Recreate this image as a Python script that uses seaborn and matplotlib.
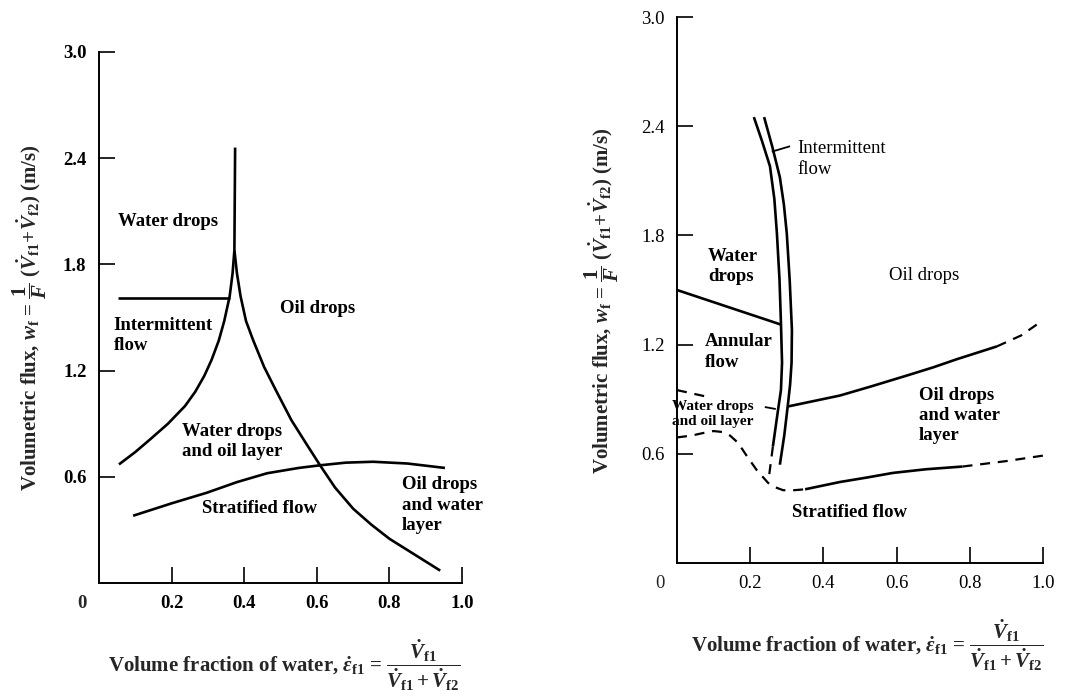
import matplotlib
matplotlib.use("Agg")
import matplotlib.pyplot as plt
import pandas as pd
import seaborn as sns

sns.set_theme(style="ticks")
plt.rcParams["font.family"] = ["Liberation Serif", "DejaVu Serif"]
plt.rcParams["mathtext.fontset"] = "custom"
plt.rcParams["mathtext.rm"] = "Liberation Serif:bold"
plt.rcParams["mathtext.it"] = "Liberation Serif:italic:bold"
plt.rcParams["mathtext.bf"] = "Liberation Serif:bold"

# ---------------- Horizontal pipe: flow-regime boundaries ----------------
h_left_x = [0.055, 0.10, 0.14, 0.19, 0.237, 0.265, 0.29, 0.31, 0.33, 0.345, 0.36, 0.368, 0.373]
h_left_y = [0.67, 0.74, 0.81, 0.90, 1.00, 1.08, 1.17, 1.26, 1.37, 1.48, 1.62, 1.75, 1.88]

h_spike_x = [0.373, 0.375]
h_spike_y = [1.88, 2.46]

h_right_x = [0.373, 0.38, 0.39, 0.405, 0.425, 0.455, 0.487, 0.53, 0.57, 0.609,
             0.65, 0.70, 0.75, 0.80, 0.87, 0.94]
h_right_y = [1.88, 1.75, 1.62, 1.48, 1.37, 1.22, 1.09, 0.92, 0.79, 0.665,
             0.54, 0.42, 0.33, 0.25, 0.16, 0.07]

h_interm_x = [0.052, 0.36]
h_interm_y = [1.61, 1.61]

h_strat_x = [0.094, 0.20, 0.297, 0.38, 0.463, 0.55, 0.609, 0.68, 0.755, 0.85, 0.953]
h_strat_y = [0.38, 0.45, 0.51, 0.57, 0.62, 0.65, 0.665, 0.68, 0.685, 0.675, 0.65]

# ---------------- Inclined pipe: flow-regime boundaries ----------------
i_band_l_x = [0.210, 0.232, 0.254, 0.266, 0.273, 0.280, 0.284, 0.287, 0.284, 0.276, 0.262]
i_band_l_y = [2.45, 2.32, 2.18, 2.00, 1.81, 1.56, 1.32, 1.10, 0.95, 0.84, 0.64]
i_band_l_dash_x = [0.262, 0.251]
i_band_l_dash_y = [0.64, 0.47]

i_band_r_x = [0.238, 0.260, 0.281, 0.292, 0.300, 0.308, 0.314, 0.313, 0.309, 0.303, 0.293, 0.281]
i_band_r_y = [2.45, 2.29, 2.12, 1.97, 1.81, 1.55, 1.28, 1.10, 0.98, 0.87, 0.70, 0.54]

i_annular_x = [0.0, 0.284]
i_annular_y = [1.50, 1.31]

i_oil_x = [0.303, 0.445, 0.53, 0.628, 0.70, 0.765, 0.874]
i_oil_y = [0.86, 0.92, 0.97, 1.03, 1.075, 1.12, 1.19]
i_oil_dash_x = [0.874, 0.94, 0.99]
i_oil_dash_y = [1.19, 1.25, 1.32]

i_strat_dash_x = [0.0, 0.04, 0.071, 0.10, 0.123, 0.145, 0.167, 0.19, 0.218, 0.249, 0.27, 0.29, 0.32, 0.35]
i_strat_dash_y = [0.69, 0.70, 0.714, 0.725, 0.72, 0.70, 0.66, 0.59, 0.51, 0.44, 0.415, 0.40, 0.40, 0.405]
i_strat_x = [0.35, 0.445, 0.52, 0.59, 0.68, 0.78]
i_strat_y = [0.405, 0.445, 0.47, 0.495, 0.515, 0.53]
i_strat_end_x = [0.78, 0.90, 1.0]
i_strat_end_y = [0.53, 0.56, 0.59]

i_upper_dash_x = [0.0, 0.09]
i_upper_dash_y = [0.95, 0.91]

i_lead_interm_x = [0.259, 0.309]
i_lead_interm_y = [2.26, 2.29]
i_lead_wd_x = [0.240, 0.270]
i_lead_wd_y = [0.857, 0.846]

y_ticks = [0.6, 1.2, 1.8, 2.4, 3.0]
y_tick_labels = ["0.6", "1.2", "1.8", "2.4", "3.0"]
x_ticks = [0.2, 0.4, 0.6, 0.8, 1.0]
x_tick_labels = ["0.2", "0.4", "0.6", "0.8", "1.0"]

Y_LABEL = (r"Volumetric flux, $w_\mathrm{f}$ = $\dfrac{1}{F}$ "
           r"$(\dot{V}_\mathrm{f1}\!+\!\dot{V}_\mathrm{f2})$ (m/s)")
X_LABEL = (r"Volume fraction of water, $\dot{\varepsilon}_\mathrm{f1}$ = "
           r"$\dfrac{\dot{V}_\mathrm{f1}}{\dot{V}_\mathrm{f1}+\dot{V}_\mathrm{f2}}$")

W, H = 1071, 698
fig = plt.figure(figsize=(W / 100, H / 100), dpi=100)
fig.patch.set_facecolor("white")
axL = fig.add_axes([99 / W, 1 - 583 / H, 363 / W, 531 / H])
axR = fig.add_axes([677 / W, 1 - 563 / H, 366 / W, 546 / H])


def curve(ax, xs, ys, dashed=False, lw=1.9):
    df = pd.DataFrame({"x": xs, "y": ys})
    sns.lineplot(data=df, x="x", y="y", ax=ax, sort=False, estimator=None,
                 color="black", lw=lw,
                 linestyle=(0, (4.5, 3.5)) if dashed else "-",
                 solid_capstyle="butt", dash_capstyle="butt",
                 solid_joinstyle="round")


def style_axes(ax, weight):
    ax.set_facecolor("white")
    ax.set_xlim(0, 1.0)
    ax.set_ylim(0, 3.0)
    for s in ("top", "right"):
        ax.spines[s].set_visible(False)
    for s in ("left", "bottom"):
        ax.spines[s].set_linewidth(1.4)
        ax.spines[s].set_color("black")
    ax.set_xticks(x_ticks)
    ax.set_xticklabels(x_tick_labels, fontsize=13.5, fontweight=weight)
    ax.set_yticks(y_ticks)
    ax.set_yticklabels(y_tick_labels, fontsize=13.5, fontweight=weight)
    ax.tick_params(direction="in", length=11.5, width=1.2, color="black",
                   labelcolor="black")
    ax.tick_params(axis="x", pad=9)
    ax.tick_params(axis="y", pad=9)
    ax.set_xlabel("")
    ax.set_ylabel("")
    ax.annotate("0", xy=(0, 0), xytext=(-12, -14.5), textcoords="offset points",
                ha="center", va="center", fontsize=13.5, fontweight=weight,
                annotation_clip=False)


# ---- horizontal pipe ----
curve(axL, h_left_x, h_left_y)
curve(axL, h_spike_x, h_spike_y)
curve(axL, h_right_x, h_right_y)
curve(axL, h_interm_x, h_interm_y)
curve(axL, h_strat_x, h_strat_y)
style_axes(axL, "bold")

lab = dict(fontsize=13.5, fontweight="bold", va="center", ha="left",
           linespacing=1.25, color="black")
axL.text(0.053, 2.04, "Water drops", **lab)
axL.text(0.50, 1.55, "Oil drops", **lab)
axL.text(0.04, 1.40, "Intermittent\nflow", **lab)
axL.text(0.23, 0.80, "Water drops\nand oil layer", **lab)
axL.text(0.285, 0.42, "Stratified flow", **lab)
axL.text(0.835, 0.44, "Oil drops\nand water\nlayer", **lab)

axL.text(-0.19, 0.50, Y_LABEL, transform=axL.transAxes, rotation=90,
         ha="center", va="center", fontsize=15, fontweight="bold")
axL.text(0.51, -0.155, X_LABEL, transform=axL.transAxes,
         ha="center", va="center", fontsize=15, fontweight="bold")

# ---- inclined pipe ----
curve(axR, i_band_l_x, i_band_l_y)
curve(axR, i_band_l_dash_x, i_band_l_dash_y, dashed=True, lw=1.6)
curve(axR, i_band_r_x, i_band_r_y)
curve(axR, i_annular_x, i_annular_y)
curve(axR, i_oil_x, i_oil_y)
curve(axR, i_oil_dash_x, i_oil_dash_y, dashed=True, lw=1.6)
curve(axR, i_strat_dash_x, i_strat_dash_y, dashed=True, lw=1.6)
curve(axR, i_strat_x, i_strat_y)
curve(axR, i_strat_end_x, i_strat_end_y, dashed=True, lw=1.6)
curve(axR, i_upper_dash_x, i_upper_dash_y, dashed=True, lw=1.6)
curve(axR, i_lead_interm_x, i_lead_interm_y, lw=1.3)
curve(axR, i_lead_wd_x, i_lead_wd_y, lw=1.3)
style_axes(axR, "normal")

labR = dict(fontsize=13.5, fontweight="normal", va="center", ha="left",
            linespacing=1.25, color="black")
axR.text(0.328, 2.22, "Intermittent\nflow", **labR)
axR.text(0.085, 1.63, "Water\ndrops", **dict(labR, fontweight="bold"))
axR.text(0.58, 1.58, "Oil drops", **labR)
axR.text(0.077, 1.16, "Annular\nflow", **dict(labR, fontweight="bold"))
axR.text(-0.014, 0.82, "Water drops\nand oil layer",
         **dict(labR, fontsize=11, fontweight="bold", linespacing=1.15))
axR.text(0.66, 0.81, "Oil drops\nand water\nlayer", **dict(labR, fontweight="bold"))
axR.text(0.47, 0.28, "Stratified flow", **dict(labR, ha="center", fontweight="bold"))

axR.text(-0.205, 0.48, Y_LABEL, transform=axR.transAxes, rotation=90,
         ha="center", va="center", fontsize=15, fontweight="bold")
axR.text(0.52, -0.15, X_LABEL, transform=axR.transAxes,
         ha="center", va="center", fontsize=15, fontweight="bold")

fig.savefig("out.png", dpi=100, facecolor="white")
